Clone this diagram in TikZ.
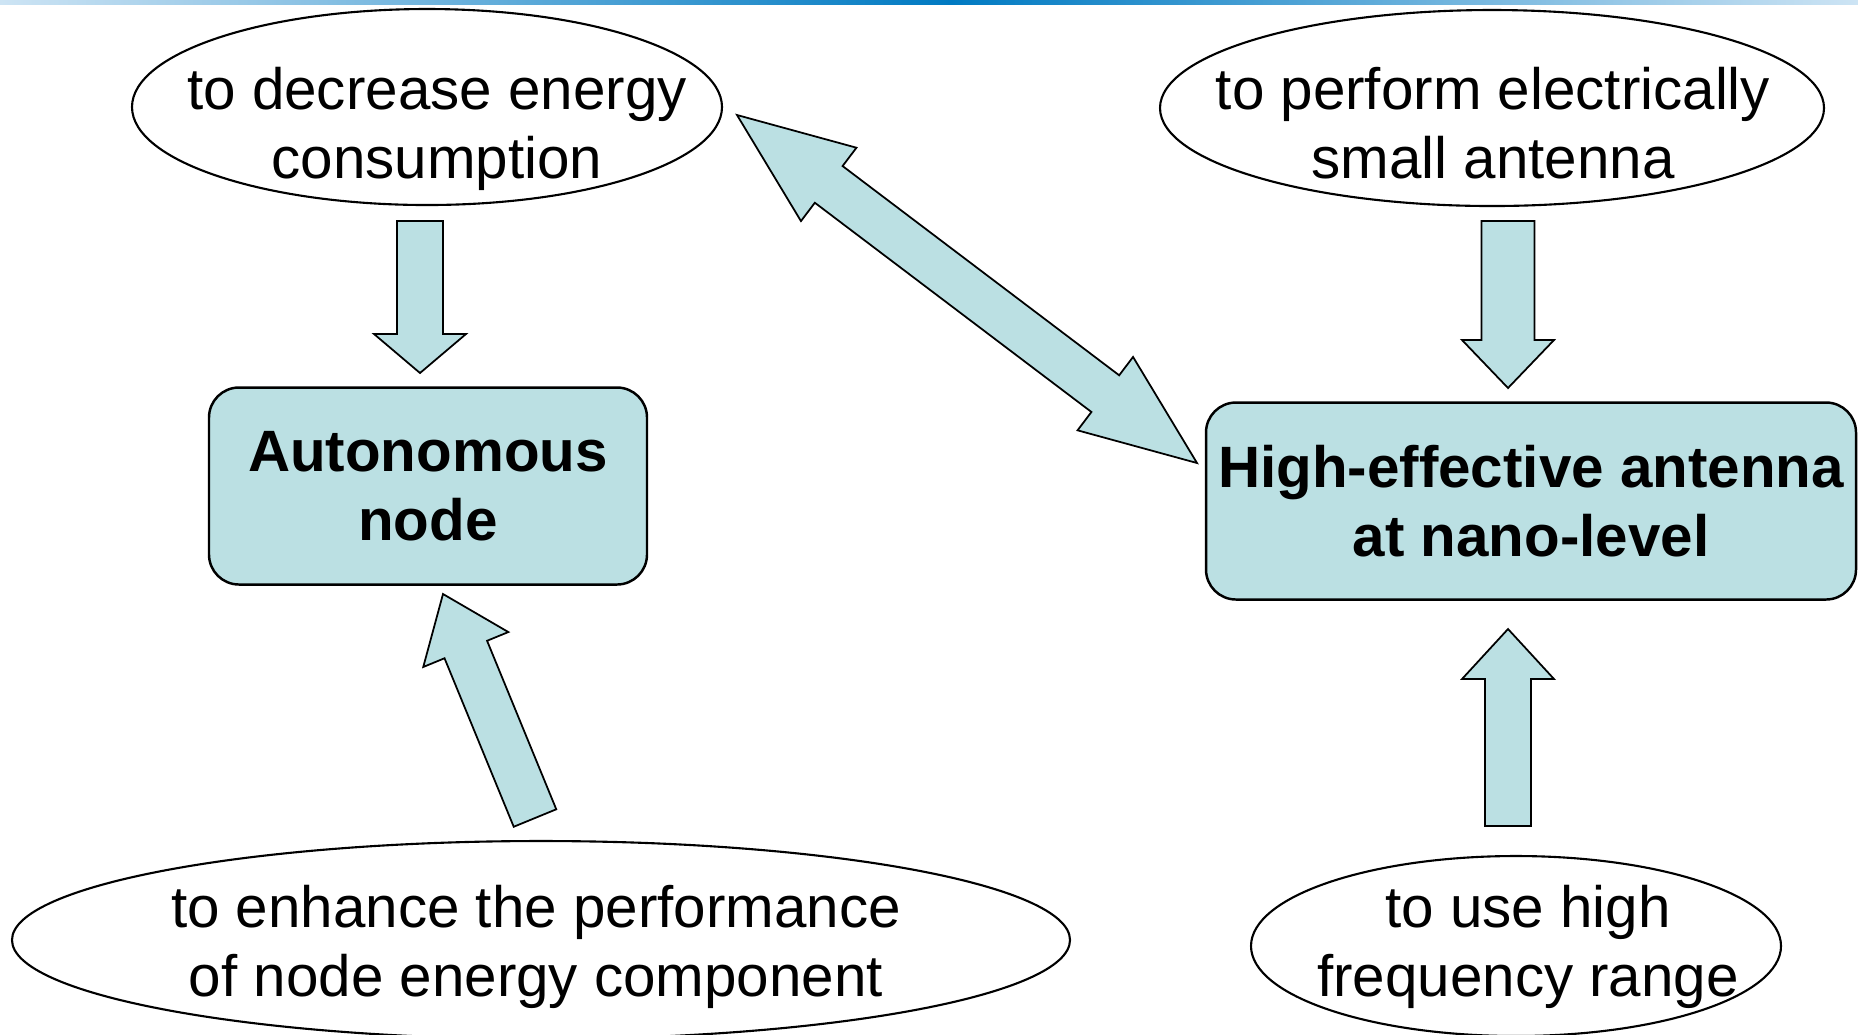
\documentclass[tikz,border=0pt]{standalone}
\usepackage{fontspec}
\setmainfont{Liberation Sans}
\usetikzlibrary{shapes.geometric,calc}

\definecolor{boxfill}{RGB}{187,224,227}
\definecolor{barblue}{RGB}{0,122,194}
\definecolor{barlight}{RGB}{205,228,244}

% block arrow: [shaft half width]{head length}{tail}{tip}
\newcommand{\blockarrow}[4][2.3mm]{
	\coordinate (hb) at ($(#4)!#2!(#3)$);
	\filldraw[blockarr] ($(#3)!#1!90:(#4)$) -- ($(hb)!#1!90:(#4)$) -- ($(hb)!4.6mm!90:(#4)$) -- (#4)
		-- ($(hb)!4.6mm!-90:(#4)$) -- ($(hb)!#1!-90:(#4)$) -- ($(#3)!#1!-90:(#4)$) -- cycle;
}
% double block arrow: {head length}{tip}{tip}
\newcommand{\dblockarrow}[3]{
	\coordinate (hb1) at ($(#2)!#1!(#3)$);
	\coordinate (hb2) at ($(#3)!#1!(#2)$);
	\filldraw[blockarr] (#2) -- ($(hb1)!4.6mm!90:(#3)$) -- ($(hb1)!2.3mm!90:(#3)$) -- ($(hb2)!2.3mm!90:(#3)$)
		-- ($(hb2)!4.6mm!90:(#3)$) -- (#3) -- ($(hb2)!4.6mm!-90:(#3)$) -- ($(hb2)!2.3mm!-90:(#3)$)
		-- ($(hb1)!2.3mm!-90:(#3)$) -- ($(hb1)!4.6mm!-90:(#3)$) -- cycle;
}

\begin{document}
\begin{tikzpicture}[x=0.1mm,y=-0.1mm,
	goal/.style={draw,ellipse,line width=0.6pt,inner sep=0pt},
	aim/.style={font=\fontsize{16.6pt}{19.5pt}\selectfont,align=center,inner sep=0pt},
	unit/.style={draw,fill=boxfill,rounded corners=3mm,line width=0.7pt,inner sep=0pt,
		font=\fontsize{16.6pt}{19.5pt}\selectfont\bfseries,align=center},
	blockarr/.style={draw,fill=boxfill,line width=0.5pt}]
	\useasboundingbox (0,0) rectangle (1858,1034);
	
	% top bar
	\shade[left color=barlight,right color=barblue] (0,0) rectangle (950,4);
	\shade[left color=barblue,right color=barlight] (950,0) rectangle (1858,4);
	
	% goals
	\node[goal,minimum width=59.0mm,minimum height=19.6mm] (decr) at (427,107) {};
	\node[aim] (decrtxt) at (437,129) {to decrease energy\\consumption};
	\node[goal,minimum width=66.4mm,minimum height=19.6mm] (small) at (1492,108) {};
	\node[aim] (smalltxt) at (1493,123) {to perform electrically\\small antenna};
	\node[goal,minimum width=105.8mm,minimum height=19.8mm] (enh) at (541,940) {};
	\node[aim] (enhtxt) at (536,947) {to enhance the performance\\of node energy component};
	\node[goal,minimum width=53.0mm,minimum height=18.0mm] (freq) at (1516,946) {};
	\node[aim] (freqtxt) at (1528,947) {to use high\\frequency range};
	
	% main blocks
	\node[unit,minimum width=43.8mm,minimum height=19.7mm] (auto) at (428,486) {Autonomous\\node};
	\node[unit,minimum width=65.0mm,minimum height=19.7mm] (ant) at (1531,501) {High-effective antenna\\at nano-level};
	
	% arrows
	\coordinate (decr-out) at (420,221);
	\coordinate (auto-in) at (420,373);
	\coordinate (small-out) at (1508,221);
	\coordinate (ant-in) at (1508,388);
	\coordinate (freq-out) at (1508,826);
	\coordinate (ant-low) at (1508,629);
	\coordinate (enh-out) at (535,818);
	\coordinate (auto-low) at (443,594);
	\coordinate (decr-side) at (737,115);
	\coordinate (ant-side) at (1197,463);
	
	\blockarrow{3.9mm}{decr-out}{auto-in}
	\blockarrow[2.65mm]{4.8mm}{small-out}{ant-in}
	\blockarrow{5.0mm}{freq-out}{ant-low}
	\blockarrow{6.0mm}{enh-out}{auto-low}
	\dblockarrow{11.5mm}{decr-side}{ant-side}
	
\end{tikzpicture}
\end{document}
